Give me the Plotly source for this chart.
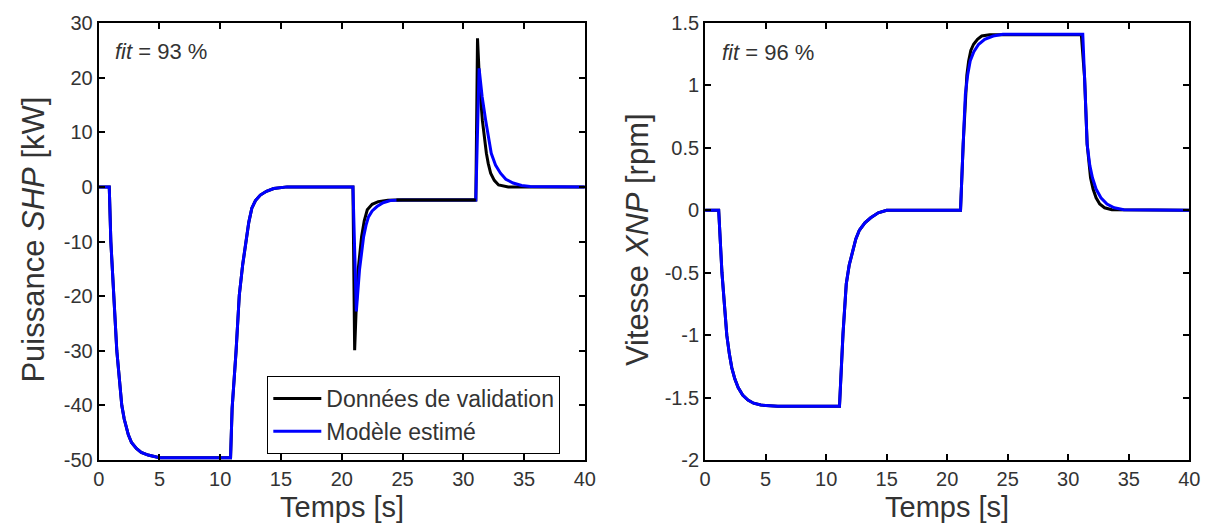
import plotly.graph_objects as go

# ---------------- Left panel: Puissance SHP [kW] ----------------
shp_val_t = [0, 0.87, 1.0, 1.22, 1.49, 1.9, 2.1, 2.44, 2.7, 3.1, 3.5, 4.07, 5.0, 10.85,
             10.98, 11.3, 11.57, 11.85, 12.14, 12.35, 12.6, 12.9, 13.3, 13.8, 14.4, 15.5,
             20.92, 21.06, 21.2, 21.35, 21.63, 21.85, 22.1, 22.5, 23.0, 23.8, 24.5,
             31.03, 31.17, 31.35, 31.57, 31.72, 31.9, 32.05, 32.25, 32.55, 32.9, 33.7, 40]
shp_val_y = [0, 0, -10, -20, -30, -40, -42.5, -45.4, -46.8, -47.9, -48.6, -49.1, -49.6, -49.6,
             -40.5, -30.2, -19.8, -14.2, -10.0, -6.5, -3.9, -2.5, -1.5, -0.8, -0.3, 0,
             0, -29.9, -21.5, -15.2, -9.1, -6.2, -4.2, -3.2, -2.7, -2.45, -2.4,
             -2.4, 27.2, 18.5, 12.2, 9.0, 6.15, 4.3, 2.5, 1.2, 0.35, 0, 0]

shp_mod_t = [0, 0.87, 1.0, 1.22, 1.49, 1.9, 2.1, 2.44, 2.7, 3.1, 3.5, 4.07, 5.0, 10.85,
             10.98, 11.3, 11.57, 11.85, 12.14, 12.35, 12.6, 12.9, 13.3, 13.8, 14.4, 15.5,
             20.92, 21.2, 21.46, 21.8, 22.0, 22.2, 22.5, 22.9, 23.4, 24.0, 25.0,
             31.03, 31.3, 31.55, 31.84, 32.05, 32.3, 32.65, 33.06, 33.5, 34.1, 34.8, 35.5, 40]
shp_mod_y = [0, 0, -10, -20, -30, -40, -42.5, -45.4, -46.8, -47.9, -48.6, -49.1, -49.6, -49.6,
             -40.5, -30.2, -19.8, -14.2, -10.0, -6.5, -3.9, -2.5, -1.5, -0.8, -0.3, 0,
             0, -22.8, -15.2, -9.1, -7.0, -5.5, -4.4, -3.6, -2.9, -2.5, -2.4,
             -2.4, 21.7, 16.5, 12.2, 9.0, 6.15, 4.0, 2.5, 1.4, 0.7, 0.25, 0.05, 0]

# ---------------- Right panel: Vitesse XNP [rpm] ----------------
xnp_val_t = [0, 1.12, 1.39, 1.6, 1.79, 2.0, 2.2, 2.45, 2.73, 3.1, 3.54, 4.0, 4.6, 6.0,
             11.1, 11.39, 11.52, 11.66, 11.9, 12.2, 12.45, 12.74, 13.2, 13.68, 14.3, 15.0,
             21.1, 21.32, 21.5, 21.62, 21.77, 21.95, 22.18, 22.5, 22.85, 23.5,
             31.08, 31.35, 31.56, 31.7, 31.84, 32.05, 32.3, 32.6, 33.0, 33.6, 40]
xnp_val_y = [0, 0, -0.5, -0.78, -1.0, -1.15, -1.26, -1.35, -1.42, -1.48, -1.52, -1.545, -1.56, -1.57,
             -1.57, -0.99, -0.78, -0.59, -0.44, -0.32, -0.23, -0.16, -0.10, -0.06, -0.02, 0,
             0, 0.53, 0.93, 1.08, 1.196, 1.28, 1.33, 1.37, 1.396, 1.405,
             1.405, 1.06, 0.53, 0.38, 0.26, 0.17, 0.10, 0.05, 0.02, 0.005, 0]

xnp_mod_t = [0, 1.12, 1.39, 1.6, 1.79, 2.0, 2.2, 2.45, 2.73, 3.1, 3.54, 4.0, 4.6, 6.0,
             11.1, 11.39, 11.52, 11.66, 11.9, 12.2, 12.45, 12.74, 13.2, 13.68, 14.3, 15.0,
             21.1, 21.32, 21.5, 21.7, 21.9, 22.2, 22.6, 23.1, 23.8, 24.6,
             31.2, 31.35, 31.56, 31.78, 32.0, 32.3, 32.7, 33.2, 33.8, 34.6, 40]
xnp_mod_y = [0, 0, -0.5, -0.78, -1.0, -1.15, -1.26, -1.35, -1.42, -1.48, -1.52, -1.545, -1.56, -1.57,
             -1.57, -0.99, -0.78, -0.59, -0.44, -0.32, -0.23, -0.16, -0.10, -0.06, -0.02, 0,
             0, 0.53, 0.93, 1.09, 1.196, 1.27, 1.33, 1.37, 1.396, 1.41,
             1.41, 1.06, 0.53, 0.36, 0.26, 0.17, 0.10, 0.05, 0.02, 0.005, 0]

x_ticks = [0, 5, 10, 15, 20, 25, 30, 35, 40]
shp_ticks = [30, 20, 10, 0, -10, -20, -30, -40, -50]
xnp_ticks = [1.5, 1, 0.5, 0, -0.5, -1, -1.5, -2]

fit_labels = ["<i>fit</i> = 93 %", "<i>fit</i> = 96 %"]
legend_names = ["Données de validation", "Modèle estimé"]
x_title = "Temps [s]"
y_titles = ["Puissance <i>SHP</i> [kW]", "Vitesse <i>XNP</i> [rpm]"]

FONT = "Liberation Sans, Arial, sans-serif"
TXT = "#333333"
W, H = 1221, 524
top, bot = 23, 64
plot_h = H - top - bot

fig = go.Figure()

lw = 3
fig.add_trace(go.Scatter(x=shp_val_t, y=shp_val_y, mode="lines", name=legend_names[0],
                         line=dict(color="black", width=lw), xaxis="x", yaxis="y"))
fig.add_trace(go.Scatter(x=shp_mod_t, y=shp_mod_y, mode="lines", name=legend_names[1],
                         line=dict(color="#0000FF", width=lw), xaxis="x", yaxis="y"))
# validation plateau (24 s - 31 s) shown above the model, as in the original
seg = [(t, v) for t, v in zip(shp_val_t, shp_val_y) if 24.0 <= t <= 31.03]
fig.add_trace(go.Scatter(x=[p[0] for p in seg], y=[p[1] for p in seg], mode="lines",
                         showlegend=False, line=dict(color="black", width=lw),
                         xaxis="x", yaxis="y"))
fig.add_trace(go.Scatter(x=xnp_val_t, y=xnp_val_y, mode="lines", showlegend=False,
                         line=dict(color="black", width=lw), xaxis="x2", yaxis="y2"))
fig.add_trace(go.Scatter(x=xnp_mod_t, y=xnp_mod_y, mode="lines", showlegend=False,
                         line=dict(color="#0000FF", width=lw), xaxis="x2", yaxis="y2"))

axis_common = dict(showline=True, linecolor="black", linewidth=2, mirror="ticks",
                   ticks="inside", ticklen=6, tickwidth=1.5, tickcolor="black",
                   showgrid=False, zeroline=False,
                   tickfont=dict(family=FONT, size=20, color=TXT))

dom1 = [94 / W, 587 / W]
dom2 = [709 / W, 1200 / W]

fig.update_layout(
    width=W, height=H,
    margin=dict(l=0, r=0, t=top, b=bot),
    paper_bgcolor="white", plot_bgcolor="white",
    font=dict(family=FONT, color=TXT),
    xaxis=dict(domain=dom1, range=[0, 40], tickvals=x_ticks,
               ticktext=[str(v) for v in x_ticks], anchor="y", **axis_common),
    yaxis=dict(domain=[0, 1], range=[-50, 30], tickvals=shp_ticks,
               ticktext=[str(v) for v in shp_ticks], anchor="x", **axis_common),
    xaxis2=dict(domain=dom2, range=[0, 40], tickvals=x_ticks,
                ticktext=[str(v) for v in x_ticks], anchor="y2", **axis_common),
    yaxis2=dict(domain=[0, 1], range=[-2, 1.5], tickvals=xnp_ticks,
                ticktext=[("%g" % v) for v in xnp_ticks], anchor="x2", **axis_common),
    legend=dict(x=265 / W, y=(H - bot - 376) / plot_h, xanchor="left", yanchor="top",
                bgcolor="white", bordercolor="black", borderwidth=1,
                font=dict(family=FONT, size=23, color=TXT),
                tracegroupgap=0, itemwidth=48),
    showlegend=True,
)

annotations = [
    dict(x=1.2, y=24.7, xref="x", yref="y", text=fit_labels[0], showarrow=False,
         xanchor="left", yanchor="middle", font=dict(family=FONT, size=22, color=TXT)),
    dict(x=1.2, y=1.26, xref="x2", yref="y2", text=fit_labels[1], showarrow=False,
         xanchor="left", yanchor="middle", font=dict(family=FONT, size=22, color=TXT)),
    dict(x=sum(dom1) / 2, y=-(507 - (H - bot)) / plot_h, xref="paper", yref="paper",
         text=x_title, showarrow=False, xanchor="center", yanchor="middle",
         font=dict(family=FONT, size=29, color=TXT)),
    dict(x=sum(dom2) / 2, y=-(507 - (H - bot)) / plot_h, xref="paper", yref="paper",
         text=x_title, showarrow=False, xanchor="center", yanchor="middle",
         font=dict(family=FONT, size=29, color=TXT)),
    dict(x=28 / W, y=((H - bot) - 240) / plot_h, xref="paper", yref="paper",
         text=y_titles[0], showarrow=False, textangle=-90, xanchor="center", yanchor="middle",
         font=dict(family=FONT, size=31, color=TXT)),
    dict(x=641 / W, y=((H - bot) - 240) / plot_h, xref="paper", yref="paper",
         text=y_titles[1], showarrow=False, textangle=-90, xanchor="center", yanchor="middle",
         font=dict(family=FONT, size=31, color=TXT)),
]
fig.update_layout(annotations=annotations)

fig.write_html("out.html", config={"displayModeBar": False},
               post_script="document.body.style.margin='0';document.body.style.overflow='hidden';")
